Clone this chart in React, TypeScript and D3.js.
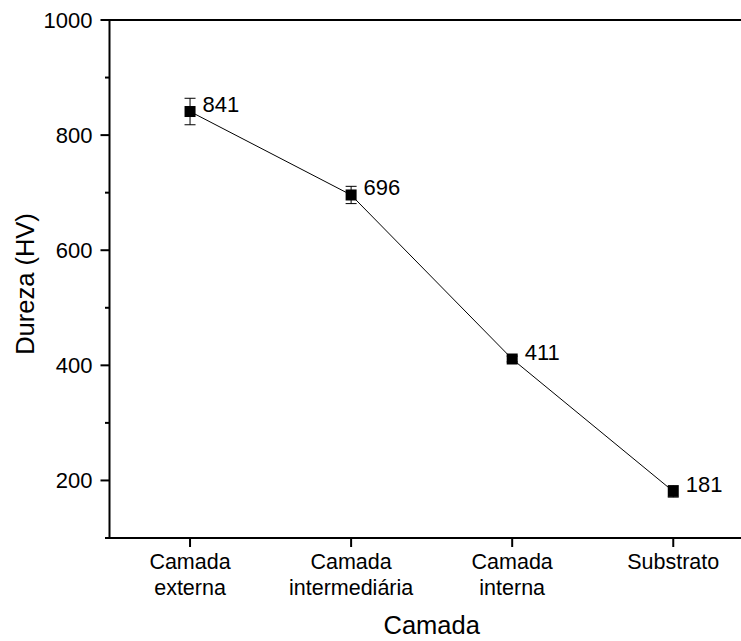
import React from "react";
import * as d3 from "d3";

// Hardness per layer
const categories: string[][] = [
  ["Camada", "externa"],
  ["Camada", "intermediária"],
  ["Camada", "interna"],
  ["Substrato"],
];
const hardness: number[] = [841, 696, 411, 181];
const hardnessError: number[] = [23, 15, 5, 10];
const yMajorTicks: number[] = [200, 400, 600, 800, 1000];
const yMinorTicks: number[] = [100, 300, 500, 700, 900];

const W = 741;
const H = 641;
const FONT = "'Liberation Sans', Arial, Helvetica, sans-serif";

export default function App() {
  const left = 109.5;
  const top = 20;
  const bottom = 538;

  const x = d3.scaleLinear().domain([0.5, 4.5]).range([left, 753.8]);
  const y = d3.scaleLinear().domain([100, 1000]).range([bottom, top]);

  const points = hardness.map((v, i) => ({ cx: x(i + 1), cy: y(v), v, e: hardnessError[i] }));
  const line = d3
    .line<{ cx: number; cy: number }>()
    .x((d) => d.cx)
    .y((d) => d.cy);

  const xRight = x(4.5);
  const marker = 11;
  const cap = 5.5;

  return (
    <div style={{ position: "absolute", left: 0, top: 0 }}>
      <svg width={W} height={H} style={{ display: "block", background: "#fff" }} fontFamily={FONT}>
        <rect x={0} y={0} width={W} height={H} fill="#fff" />

        {/* connecting line */}
        <path d={line(points) || ""} fill="none" stroke="#000" strokeWidth={1} />

        {/* error bars */}
        {points.map((p, i) => (
          <g key={"e" + i} stroke="#000" strokeWidth={1}>
            <line x1={p.cx} x2={p.cx} y1={y(p.v + p.e)} y2={y(p.v - p.e)} />
            <line x1={p.cx - cap} x2={p.cx + cap} y1={y(p.v + p.e)} y2={y(p.v + p.e)} />
            <line x1={p.cx - cap} x2={p.cx + cap} y1={y(p.v - p.e)} y2={y(p.v - p.e)} />
          </g>
        ))}

        {/* markers */}
        {points.map((p, i) => (
          <rect
            key={"m" + i}
            x={p.cx - marker / 2}
            y={p.cy - marker / 2}
            width={marker}
            height={marker}
            fill="#000"
          />
        ))}

        {/* value labels */}
        {points.map((p, i) => (
          <text key={"l" + i} x={p.cx + 12.5} y={p.cy + 0.5} fontSize={22} fill="#000">
            {p.v}
          </text>
        ))}

        {/* frame */}
        <g stroke="#000" strokeWidth={2} fill="none">
          <line x1={left} x2={left} y1={top - 1} y2={bottom + 1} />
          <line x1={left - 1} x2={xRight} y1={top} y2={top} />
          <line x1={left - 1} x2={xRight} y1={bottom} y2={bottom} />
          <line x1={xRight} x2={xRight} y1={top} y2={bottom} />
        </g>

        {/* y ticks */}
        <g stroke="#000" strokeWidth={2}>
          {yMajorTicks.map((t) => (
            <line key={"ym" + t} x1={left - 9} x2={left} y1={y(t)} y2={y(t)} />
          ))}
          {yMinorTicks.map((t) => (
            <line key={"yn" + t} x1={left - 4.5} x2={left} y1={y(t)} y2={y(t)} />
          ))}
        </g>
        {yMajorTicks.map((t) => (
          <text
            key={"yl" + t}
            x={left - 17}
            y={y(t)}
            dy="0.36em"
            textAnchor="end"
            fontSize={22}
            fill="#000"
          >
            {t}
          </text>
        ))}

        {/* x ticks */}
        <g stroke="#000" strokeWidth={2}>
          {categories.map((_, i) => (
            <line key={"xt" + i} x1={x(i + 1)} x2={x(i + 1)} y1={bottom} y2={bottom + 9} />
          ))}
        </g>
        {categories.map((lines, i) => (
          <text key={"xl" + i} x={x(i + 1)} textAnchor="middle" fontSize={21.5} fill="#000">
            {lines.map((s, j) => (
              <tspan key={j} x={x(i + 1)} y={569 + j * 26}>
                {s}
              </tspan>
            ))}
          </text>
        ))}

        {/* axis titles */}
        <text x={431.7} y={634} textAnchor="middle" fontSize={25.5} fill="#000">
          Camada
        </text>
        <text
          transform={`translate(33.5, ${284}) rotate(-90)`}
          textAnchor="middle"
          fontSize={25.5}
          fill="#000"
        >
          Dureza (HV)
        </text>
      </svg>
    </div>
  );
}
